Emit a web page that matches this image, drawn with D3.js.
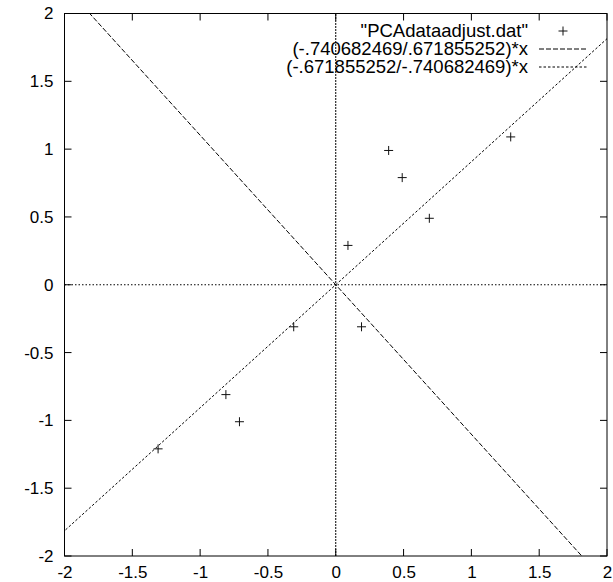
<!DOCTYPE html>
<html>
<head>
<meta charset="utf-8">
<script src="https://cdn.jsdelivr.net/npm/d3@7"></script>
<style>
  html, body { margin: 0; padding: 0; background: #fff; }
  svg { display: block; }
  text { font-family: "Liberation Sans", Arial, sans-serif; fill: #000; }
</style>
</head>
<body>
<script>
// ---- data ----
const xValues = [0.69, -1.31, 0.39, 0.09, 1.29, 0.49, 0.19, -0.81, -0.31, -0.71];
const yValues = [0.49, -1.21, 0.99, 0.29, 1.09, 0.79, -0.31, -0.81, -0.31, -1.01];
const eigA = [-0.740682469, 0.671855252];
const eigB = [-0.671855252, -0.740682469];
const xTicks = [-2, -1.5, -1, -0.5, 0, 0.5, 1, 1.5, 2];
const yTicks = [-2, -1.5, -1, -0.5, 0, 0.5, 1, 1.5, 2];
const xTickLabels = ["-2", "-1.5", "-1", "-0.5", "0", "0.5", "1", "1.5", "2"];
const yTickLabels = ["-2", "-1.5", "-1", "-0.5", "0", "0.5", "1", "1.5", "2"];
const legendLabels = ['"PCAdataadjust.dat"', '(-.740682469/.671855252)*x', '(-.671855252/-.740682469)*x'];

// ---- layout ----
const W = 613, H = 582;
const pL = 64.5, pR = 607, pT = 13.5, pB = 556;

const svg = d3.select("body").append("svg").attr("width", W).attr("height", H);

const x = d3.scaleLinear().domain([-2, 2]).range([pL, pR]);
const y = d3.scaleLinear().domain([-2, 2]).range([pB, pT]);

svg.append("clipPath").attr("id", "clip")
  .append("rect").attr("x", pL).attr("y", pT).attr("width", pR - pL).attr("height", pB - pT);

const plot = svg.append("g").attr("clip-path", "url(#clip)");

// zero axes
plot.append("line").attr("x1", x(-2)).attr("x2", x(2)).attr("y1", y(0)).attr("y2", y(0))
  .attr("stroke", "#000").attr("stroke-width", 1).attr("stroke-dasharray", "1.5,2");
plot.append("line").attr("x1", x(0)).attr("x2", x(0)).attr("y1", y(-2)).attr("y2", y(2))
  .attr("stroke", "#000").attr("stroke-width", 1).attr("stroke-dasharray", "2,1");

// eigenvector lines
const slopeA = eigA[0] / eigA[1];
const slopeB = eigB[0] / eigB[1];
const xs = [-3, 3];
const line = d3.line().x(d => x(d[0])).y(d => y(d[1]));
plot.append("path").datum(xs.map(v => [v, slopeA * v])).attr("d", line)
  .attr("fill", "none").attr("stroke", "#000").attr("stroke-width", 1).attr("stroke-dasharray", "5,2");
plot.append("path").datum(xs.map(v => [v, slopeB * v])).attr("d", line)
  .attr("fill", "none").attr("stroke", "#000").attr("stroke-width", 1).attr("stroke-dasharray", "2.5,2");

// points
const pts = xValues.map((v, i) => [v, yValues[i]]);
const cs = 4.5;
const g = plot.append("g").attr("stroke", "#111").attr("stroke-width", 1);
pts.forEach(p => {
  const cx = x(p[0]), cy = y(p[1]);
  g.append("line").attr("x1", cx - cs).attr("x2", cx + cs).attr("y1", cy).attr("y2", cy);
  g.append("line").attr("x1", cx).attr("x2", cx).attr("y1", cy - cs).attr("y2", cy + cs);
});

// frame
svg.append("rect").attr("x", pL).attr("y", pT).attr("width", pR - pL).attr("height", pB - pT)
  .attr("fill", "none").attr("stroke", "#000").attr("stroke-width", 1);

// ticks (mirrored, inward)
const tl = 7;
const axB = d3.axisBottom(x).tickValues(xTicks).tickSize(0).tickFormat((d, i) => xTickLabels[i]);
svg.append("g").attr("transform", `translate(0,${pB})`).call(axB)
  .call(s => s.select(".domain").remove())
  .call(s => s.selectAll("text").attr("font-size", 17).attr("dy", null).attr("y", 22).style("font-family", '"Liberation Sans", Arial, sans-serif'));
const axL = d3.axisLeft(y).tickValues(yTicks).tickSize(0).tickFormat((d, i) => yTickLabels[i]);
svg.append("g").attr("transform", `translate(${pL},0)`).call(axL)
  .call(s => s.select(".domain").remove())
  .call(s => s.selectAll("text").attr("font-size", 17).attr("x", -11).style("font-family", '"Liberation Sans", Arial, sans-serif'));

const tk = svg.append("g").attr("stroke", "#000").attr("stroke-width", 1);
xTicks.forEach(v => {
  tk.append("line").attr("x1", x(v)).attr("x2", x(v)).attr("y1", pB).attr("y2", pB - tl);
  tk.append("line").attr("x1", x(v)).attr("x2", x(v)).attr("y1", pT).attr("y2", pT + tl);
});
yTicks.forEach(v => {
  tk.append("line").attr("x1", pL).attr("x2", pL + tl).attr("y1", y(v)).attr("y2", y(v));
  tk.append("line").attr("x1", pR).attr("x2", pR - tl).attr("y1", y(v)).attr("y2", y(v));
});

// legend
const lg = svg.append("g");
const textRight = 528, sampleL = 539, sampleR = 587, rowY0 = 31, rowDy = 18;
legendLabels.forEach((lab, i) => {
  const ry = rowY0 + i * rowDy;
  lg.append("text").attr("x", textRight).attr("y", ry).attr("dy", "0.35em")
    .attr("text-anchor", "end").attr("font-size", 18.5).text(lab);
});
{
  const cx = (sampleL + sampleR) / 2, cy = rowY0;
  lg.append("line").attr("x1", cx - cs).attr("x2", cx + cs).attr("y1", cy).attr("y2", cy).attr("stroke", "#111");
  lg.append("line").attr("x1", cx).attr("x2", cx).attr("y1", cy - cs).attr("y2", cy + cs).attr("stroke", "#111");
}
lg.append("line").attr("x1", sampleL).attr("x2", sampleR).attr("y1", rowY0 + rowDy).attr("y2", rowY0 + rowDy)
  .attr("stroke", "#000").attr("stroke-dasharray", "5,2");
lg.append("line").attr("x1", sampleL).attr("x2", sampleR).attr("y1", rowY0 + 2 * rowDy).attr("y2", rowY0 + 2 * rowDy)
  .attr("stroke", "#000").attr("stroke-dasharray", "2.5,2");
</script>
</body>
</html>
